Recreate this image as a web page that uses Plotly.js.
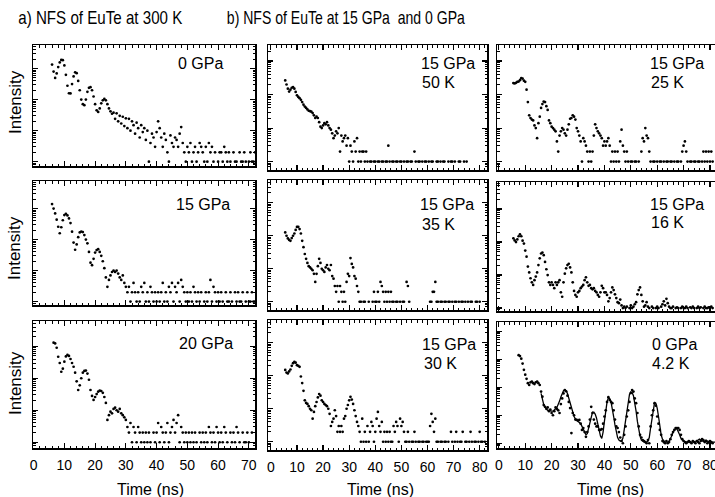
<!DOCTYPE html>
<html><head><meta charset="utf-8">
<script src="https://cdn.plot.ly/plotly-3.0.1.min.js"></script>
<style>html,body{margin:0;padding:0;overflow:hidden;background:#fff}#chart{width:722px;height:497px}</style>
</head><body><div id="chart"></div>
<script>
// ---- data: delayed counts per 0.5 ns time channel (0 = empty channel) ----
const channelWidth = 0.5; // ns
const timeTickLabelsCol1 = [0,10,20,30,40,50,60,70];
const timeTickLabelsCol23 = [0,10,20,30,40,50,60,70,80];

const start300K_0GPa = 6.0;
const counts300K_0GPa = [1350,800,500,700,1120,1580,1900,1860,1260,630,
 280,160,158,316,560,760,710,400,200,100,
 71,66,100,178,240,251,200,126,71,45,
 40,52,76,95,105,95,71,52,42,35,
 38,24,36,20,30,17,28,14,25,12,
 24,10,20,15,8,18,12,6,15,9,
 12,5,10,1,4,8,6,3,9,20,
 12,6,3,8,5,2,1,7,4,3,
 6,5,3,8,13,4,2,1,3,2,
 4,1,2,3,1,2,4,3,2,1,
 3,1,4,2,3,1,2,0,1,2,
 2,1,3,2,1,2,1,0,2,1,
 1,0,2,1,1,2,1,0,1,2,
 1,1,2];

const start300K_15GPa = 6.0;
const counts300K_15GPa = [1400,1000,700,440,260,160,250,420,620,680,
 600,480,340,180,80,47,70,120,170,182,
 175,140,100,76,40,18,15,24,38,46,
 49,40,30,20,12,6,3,5,7,9,
 10,9,10,8,6,5,7,4,3,2,
 3,1,2,4,2,1,2,1,3,2,
 4,1,2,1,3,2,1,2,1,2,
 1,2,4,1,2,1,3,2,4,1,
 3,2,4,1,5,3,2,1,2,1,
 2,1,3,2,1,2,1,2,0,1,
 2,1,2,5,1,3,2,1,2,1,
 2,1,0,2,1,1,2,1,0,2,
 1,2,1,1,2,0,1,2,1,1,
 2,1,1];

const start300K_20GPa = 6.5;
const counts300K_20GPa = [1300,1230,900,470,300,160,200,330,480,537,
 500,400,300,229,150,80,43,60,100,150,
 170,174,140,90,43,28,21,26,32,38,
 41,40,35,26,17,5,7,9,8,11,
 12,10,9,11,8,7,6,5,3,2,
 4,1,3,2,1,3,2,1,2,1,
 2,1,2,1,0,2,1,2,4,1,
 3,2,1,2,4,1,2,3,5,2,
 4,7,1,3,2,1,2,1,2,1,
 2,1,2,1,0,2,1,2,1,2,
 1,3,2,1,2,1,3,2,1,2,
 1,3,2,1,0,2,1,2,1,3,
 2,1,0,2,1,1,2,1,0,2];

const start15GPa_50K = 5.5;
const counts15GPa_50K = [265,200,150,123,140,160,166,150,120,95,
 85,78,70,60,50,44,40,36,33,32,
 31,28,24,20,22,20,15,11,10,12,
 14,13,15,12,10,9,7,5,6,8,
 7,10,2,6,4,5,6,3,5,1,
 3,2,1,4,2,5,1,2,1,2,
 2,1,2,1,0,1,1,0,1,1,
 0,1,1,0,1,1,0,1,1,3,
 1,0,1,1,0,1,1,0,1,1,
 0,1,0,1,1,0,1,1,0,2,
 1,0,1,1,0,1,0,1,1,0,
 1,0,1,1,0,0,1,1,0,1,
 0,1,1,0,0,1,0,1,1,0,
 1,0,0,1,1,0,0,1,0,1];

const start15GPa_35K = 5.5;
const counts15GPa_35K = [126,100,83,75,70,85,100,117,150,185,
 186,160,117,70,45,28,20,15,12,11,
 10,9,7,4,7,12,20,15,10,9,
 8,11,13,10,9,13,6,5,3,2,
 3,1,3,2,1,2,1,4,7,6,
 21,14,11,6,5,3,2,1,1,0,
 1,1,0,0,1,0,0,1,2,1,
 1,2,1,4,3,2,1,2,1,2,
 1,2,1,1,0,1,1,0,1,0,
 1,1,0,4,3,1,0,0,0,0,
 0,0,0,0,0,0,0,0,0,0,
 0,1,1,2,2,4,1,1,0,1,
 1,0,1,1,0,1,1,0,1,0,
 1,1,0,1,0,1,1,0,1,0,
 1,0,1,1,0,0,1,1,0,1];

const start15GPa_30K = 5.5;
const counts15GPa_30K = [150,125,118,135,155,200,240,263,250,210,
 200,186,95,60,35,18,15,14,12,10,
 9,5,8,12,16,22,28,25,18,16,
 14,13,12,10,7,3,4,5,9,6,
 2,3,2,3,2,5,6,10,13,18,
 23,19,14,9,6,4,3,2,1,5,
 1,2,1,3,1,2,4,3,1,2,
 5,8,3,2,4,1,2,1,2,1,
 2,1,1,3,2,4,3,1,5,3,
 4,2,1,1,2,1,0,1,1,2,
 1,0,1,1,0,1,1,0,1,1,
 1,3,7,4,2,5,1,1,0,1,
 1,0,1,1,0,1,0,2,1,0,
 1,2,1,0,1,1,2,0,1,1,
 0,1,2,1,0,1,1,0,1,2,
 1,1,0,1];

const start15GPa_25K = 5.5;
const counts15GPa_25K = [220,215,225,240,245,270,310,300,260,240,
 140,60,24,20,18,17,12,10,5,14,
 22,40,52,62,60,45,35,17,14,11,
 10,9,8,4,2,6,8,10,9,7,
 6,9,13,19,20,24,22,18,10,8,
 6,4,1,5,4,3,2,1,2,1,
 2,6,13,10,8,7,6,5,3,4,
 3,4,5,3,1,2,1,2,1,2,
 1,4,9,3,2,1,2,1,0,1,
 1,0,1,1,0,1,0,2,5,4,
 10,6,5,2,1,0,1,1,0,1,
 0,1,1,0,1,0,1,1,0,1,
 1,0,1,0,1,1,0,1,2,3,
 4,2,1,0,1,1,0,1,1,0,
 1,1,0,1,2,1,2,1,2,1,
 2,1];

const start15GPa_16K = 5.5;
const counts15GPa_16K = [130,112,100,120,150,172,150,110,90,55,
 36,18,12,8,6,5,7,9,12,20,
 32,45,48,40,25,15,10,6,5,6,
 5,4,6,5,6,7,3,2.2,6,11,
 16,20,22,17,12,6,3.3,2.5,2.2,3,
 3.3,4,4.5,5,7,8.5,6,4.7,5,4,
 3.7,4,3.3,3,2.5,2.2,3,4.7,4,3,
 3,2.5,1.6,2,3,4.2,3.5,2.6,2,1.5,
 1.4,1.8,1.2,1,1.1,1,1.1,0,1,1.2,
 1,1.1,1.3,1.5,2.6,3.5,4.2,2.5,1.6,1.1,
 1.2,1.5,1.1,1,0,1.1,1,0,1,1.1,
 1,0,1.1,1.3,1.6,1.2,1.9,1.4,1.1,1,
 1,1.1,0,1,1.05,1,0,1,1.1,1,
 1,1.1,1,0,1.05,1,1.1,1,0,1,
 1.1,1,1.05,0,1,1.1,1,1,1.05,1,
 1.1,1];

const start0GPa_4K = 7.5;
const counts0GPa_4K = [1400,1300,1050,700,420,280,200,140,120,150,
 160,140,130,150,160,140,120,70,46,23,
 20,17,19,14,16,12,10,14,19,17,
 15,12,25,40,60,79,72,50,30,18,
 2.3,12,10,7,6.8,6.5,6.8,5,3,3.5,
 2.5,1.7,2.5,4,7,20,12,7,5,4,
 4,3,3,3.2,5,9,15,30,44,35,
 30,27,15,7,4,3.5,2.5,1.6,1.2,1,
 2,4,9,15,30,62,79,70,40,27,
 12,4,2,1.6,1.3,1.2,1.1,1,1.3,1,
 4,10,15,27,22,9,5,3,2,1.2,
 1.1,1,1.2,1,1.1,1.4,2,2.5,3,3.5,
 3.5,3.5,3,2,1.4,1.2,1.1,1,1.1,1.2,
 1.1,1,1.2,1.1,1,1.2,1.1,1,1.2,1.4,
 1.3,1.1,1.2,1,1.1,1.2,1.1,1];

const startFit0GPa_4K = 16.0;
const fit0GPa_4K = [60,35,24,20,17,15,15,14,14,14,
 15,17,19,24,32,45,60,75,80,75,
 60,42,28,18,12,9,7.5,6.5,6,5.5,
 5,4,3.2,2.5,2,2.2,3.5,6,10,13,
 13,11,8,5,3,1.8,1.5,2.5,6,14,
 30,42,40,30,18,9,4.5,2.5,1.6,1.3,
 1.2,1.2,1.5,3,7,16,32,55,68,65,
 50,30,14,6,3,1.8,1.3,1.2,1.1,1.1,
 1.1,1.2,1.6,3.5,8,18,28,27,18,9,
 4,2,1.4,1.2,1.1,1.1,1.1,1.2,1.4,1.8,
 2.5,3,3.3,3.2,2.6,2,1.5,1.3,1.2,1.1,
 1.1,1.1,1.1,1.1,1.1,1.1,1.1,1.1,1.2,1.3,
 1.4,1.3,1.2,1.15,1.2,1.3,1.2,1.1,1.1,1.1,
 1.1,1.1,1.1];

const panelLabels = [["0 GPa"],["15 GPa","50 K"],["15 GPa","25 K"],
 ["15 GPa"],["15 GPa","35 K"],["15 GPa","16 K"],
 ["20 GPa"],["15 GPa","30 K"],["0 GPa","4.2 K"]];
const titleA = 'a) NFS of EuTe at 300 K';
const titleB = 'b) NFS of EuTe at 15 GPa\u00a0 and 0 GPa';

// ---- layout geometry (pixels) ----
const W = 722, H = 497;
const panels = [
 {start:start300K_0GPa, counts:counts300K_0GPa},
 {start:start15GPa_50K, counts:counts15GPa_50K},
 {start:start15GPa_25K, counts:counts15GPa_25K},
 {start:start300K_15GPa, counts:counts300K_15GPa},
 {start:start15GPa_35K, counts:counts15GPa_35K},
 {start:start15GPa_16K, counts:counts15GPa_16K},
 {start:start300K_20GPa, counts:counts300K_20GPa},
 {start:start15GPa_30K, counts:counts15GPa_30K},
 {start:start0GPa_4K, counts:counts0GPa_4K}
];
const colX = [[33,255],[268,487],[497,720]];
const xRanges = [[-0.2,72],[-1.1,82.8],[-0.7,83.8]];
const rowY = [[[45,166],[45,170],[45,170]],[[181,305],[180,310],[182,311]],[[321,448],[320,450],[322,448]]];
const yRanges = [[[-0.14,3.76],[-0.25,3.48],[-0.25,3.48]],[[-0.11,3.89],[-0.25,3.69],[-0.09,3.82]],[[-0.18,3.79],[-0.25,3.69],[-0.17,4.33]]];
const labelPos = [
 [{x:200,y:63,a:'center'}],[{x:419,y:63,a:'left'},{x:420,y:83,a:'left'}],[{x:648,y:63,a:'left'},{x:649,y:83,a:'left'}],
 [{x:203,y:204,a:'center'}],[{x:418,y:204,a:'left'},{x:420,y:224,a:'left'}],[{x:648,y:204,a:'left'},{x:649,y:223,a:'left'}],
 [{x:206,y:343,a:'center'}],[{x:420,y:344,a:'left'},{x:422,y:363,a:'left'}],[{x:650,y:344,a:'left'},{x:650,y:363,a:'left'}]
];
const titleBoxes = [{text:titleA, x0:18, w:164}, {text:titleB, x0:227, w:238}];
const px = v => v / W, py = v => 1 - v / H;
const FONT = 'Liberation Sans, Arial, Helvetica, sans-serif';

const traces = [];
const layout = {
 width: W, height: H, margin:{l:0,r:0,t:0,b:0},
 paper_bgcolor:'#fff', plot_bgcolor:'#fff', showlegend:false,
 font:{family:FONT, color:'#000'}, annotations:[]
};

panels.forEach((p, i) => {
 const n = i + 1, r = Math.floor(i / 3), c = i % 3;
 const sfx = n === 1 ? '' : String(n);
 traces.push({
  type:'scatter', mode:'markers',
  x: p.counts.map((_, k) => p.start + k * channelWidth),
  y: p.counts.map(v => v > 0 ? v : null),
  xaxis:'x' + sfx, yaxis:'y' + sfx,
  marker:{size:2.7, color:'#000'}, hoverinfo:'skip'
 });
 layout['xaxis' + sfx] = {
  domain:[px(colX[c][0]), px(colX[c][1])], range:xRanges[c], anchor:'y' + sfx,
  showline:true, linecolor:'#000', linewidth:1.5, mirror:'ticks',
  ticks:'inside', ticklen:5, tickwidth:1.2, tickcolor:'#000',
  tickmode:'array', tickvals: c === 0 ? timeTickLabelsCol1 : timeTickLabelsCol23,
  showgrid:false, zeroline:false, showticklabels: r === 2,
  tickfont:{size:14, family:FONT, color:'#000'}, ticklabelstandoff:4,
  minor:{dtick:2, tick0:0, ticks:'inside', ticklen:2.5, tickwidth:1, tickcolor:'#000', showgrid:false}
 };
 layout['yaxis' + sfx] = {
  type:'log', domain:[py(rowY[r][c][1]), py(rowY[r][c][0])], range:yRanges[r][c], anchor:'x' + sfx,
  showline:true, linecolor:'#000', linewidth:1.5, mirror:'ticks',
  ticks:'inside', ticklen:5, tickwidth:1.2, tickcolor:'#000', dtick:1,
  showgrid:false, zeroline:false, showticklabels:false,
  minor:{dtick:'D1', ticks:'inside', ticklen:2.5, tickwidth:1, tickcolor:'#000', showgrid:false}
 };
 panelLabels[i].forEach((t, j) => {
  const lp = labelPos[i][j];
  layout.annotations.push({text:t, xref:'paper', yref:'paper', x:px(lp.x), y:py(lp.y),
   xanchor:lp.a, yanchor:'middle', showarrow:false, font:{size:16, family:FONT, color:'#000'}});
 });
});

traces.push({type:'scatter', mode:'lines',
 x: fit0GPa_4K.map((_, k) => startFit0GPa_4K + k * channelWidth), y: fit0GPa_4K,
 xaxis:'x9', yaxis:'y9', line:{color:'#000', width:1.3}, hoverinfo:'skip'});

titleBoxes.forEach(tb => layout.annotations.push({text:tb.text, xref:'paper', yref:'paper',
 x:px(tb.x0 + tb.w / 2), y:py(17), xanchor:'center', yanchor:'middle', showarrow:false,
 font:{size:18.5, family:FONT, color:'#000'}}));
[102, 248, 383].forEach(yc => layout.annotations.push({text:'Intensity', xref:'paper', yref:'paper', x:px(15), y:py(yc),
 xanchor:'center', yanchor:'middle', textangle:-90, showarrow:false, font:{size:17, family:FONT, color:'#000'}}));
[150, 381, 610].forEach(xc => layout.annotations.push({text:'Time (ns)', xref:'paper', yref:'paper', x:px(xc), y:py(489),
 xanchor:'center', yanchor:'middle', showarrow:false, font:{size:16, family:FONT, color:'#000'}}));

Plotly.newPlot('chart', traces, layout, {staticPlot:true, displayModeBar:false}).then(gd => {
 // the original titles are set in a condensed face: squeeze them to their measured widths
 gd.querySelectorAll('text.annotation-text').forEach(el => {
  const tb = titleBoxes.find(b => b.text === el.textContent);
  if (tb) { el.setAttribute('textLength', tb.w); el.setAttribute('lengthAdjust', 'spacingAndGlyphs'); }
 });
});
</script></body></html>
